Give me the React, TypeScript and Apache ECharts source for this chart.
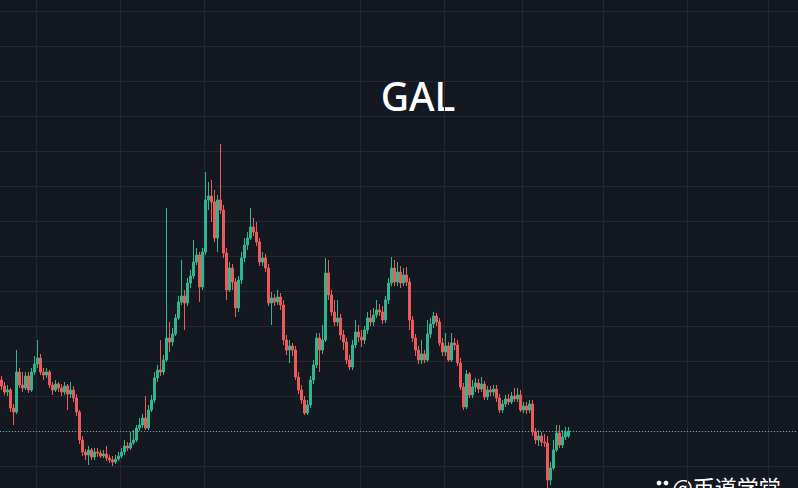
import React, { useEffect, useRef } from "react";
import * as echarts from "echarts";

const SYMBOL = "GAL";
const WATERMARK = "@币道学堂";

// time slots (3px each); the chart keeps an empty right margin like TradingView
const SLOT_COUNT = 266;
const slots = Array.from({ length: SLOT_COUNT }, (_, i) => `T${i + 1}`);
// slots where the time grid draws a vertical line
const timeGridSlots = [12, 40, 68, 120, 148, 174, 201, 229, 256];

const opens = [
  1.20, 1.14, 1.08, 1.10, 0.92, 0.88, 1.28, 1.15, 1.12, 1.24,
  1.10, 1.28, 1.36, 1.42, 1.28, 1.25, 1.28, 1.15, 1.10, 1.16,
  1.12, 1.08, 1.14, 1.06, 1.10, 1.02, 0.88, 0.60, 0.48, 0.45,
  0.50, 0.43, 0.48, 0.47, 0.44, 0.46, 0.42, 0.40, 0.38, 0.41,
  0.44, 0.48, 0.54, 0.52, 0.57, 0.60, 0.72, 0.75, 0.82, 0.72,
  0.90, 1.00, 1.22, 1.30, 1.28, 1.40, 1.62, 1.58, 1.66, 1.82,
  1.98, 2.04, 1.97, 2.17, 2.24, 2.38, 2.45, 2.13, 2.48, 3.00,
  3.04, 2.98, 2.62, 3.00, 2.90, 2.47, 2.10, 2.32, 2.18, 1.92,
  2.20, 2.42, 2.55, 2.62, 2.73, 2.68, 2.58, 2.38, 2.42, 2.32,
  1.97, 2.02, 1.98, 2.03, 1.95, 1.60, 1.50, 1.54, 1.50, 1.23,
  1.10, 1.00, 0.87, 0.95, 1.20, 1.35, 1.62, 1.50, 1.60, 2.27,
  2.05, 1.88, 1.78, 1.82, 1.65, 1.58, 1.40, 1.33, 1.55, 1.68,
  1.63, 1.60, 1.70, 1.82, 1.78, 1.85, 1.90, 1.88, 1.80, 2.00,
  2.17, 2.32, 2.18, 2.28, 2.17, 2.25, 2.18, 1.80, 1.62, 1.50,
  1.40, 1.46, 1.40, 1.66, 1.76, 1.84, 1.78, 1.57, 1.48, 1.54,
  1.40, 1.57, 1.55, 1.37, 1.13, 0.93, 1.26, 1.05, 1.13, 1.17,
  1.11, 1.16, 1.03, 1.10, 1.08, 1.11, 1.02, 0.90, 0.96, 1.01,
  0.98, 1.04, 1.01, 1.05, 0.90, 0.94, 0.90, 0.96, 0.68, 0.60,
  0.64, 0.58, 0.57, 0.20, 0.32, 0.50, 0.67, 0.55, 0.63, 0.64,
];

const closes = [
  1.14, 1.08, 1.10, 0.92, 0.88, 1.28, 1.15, 1.12, 1.24, 1.10,
  1.28, 1.36, 1.42, 1.28, 1.25, 1.28, 1.15, 1.10, 1.16, 1.12,
  1.08, 1.14, 1.06, 1.10, 1.02, 0.88, 0.60, 0.48, 0.45, 0.50,
  0.43, 0.48, 0.47, 0.44, 0.46, 0.42, 0.40, 0.38, 0.41, 0.44,
  0.48, 0.54, 0.52, 0.57, 0.60, 0.72, 0.75, 0.82, 0.72, 0.90,
  1.00, 1.22, 1.30, 1.28, 1.40, 1.62, 1.58, 1.66, 1.82, 1.98,
  2.04, 1.97, 2.17, 2.24, 2.38, 2.45, 2.13, 2.48, 3.00, 3.04,
  2.98, 2.62, 3.00, 2.90, 2.47, 2.10, 2.32, 2.18, 1.92, 2.20,
  2.42, 2.55, 2.62, 2.73, 2.68, 2.58, 2.38, 2.42, 2.32, 1.97,
  2.02, 1.98, 2.03, 1.95, 1.60, 1.50, 1.54, 1.50, 1.23, 1.10,
  1.00, 0.87, 0.95, 1.20, 1.35, 1.62, 1.50, 1.60, 2.27, 2.05,
  1.88, 1.78, 1.82, 1.65, 1.58, 1.40, 1.33, 1.55, 1.68, 1.63,
  1.60, 1.70, 1.82, 1.78, 1.85, 1.90, 1.88, 1.80, 2.00, 2.17,
  2.32, 2.18, 2.28, 2.17, 2.25, 2.18, 1.80, 1.62, 1.50, 1.40,
  1.46, 1.40, 1.66, 1.76, 1.84, 1.78, 1.57, 1.48, 1.54, 1.40,
  1.57, 1.55, 1.37, 1.13, 0.93, 1.26, 1.05, 1.13, 1.17, 1.11,
  1.16, 1.03, 1.10, 1.08, 1.11, 1.02, 0.90, 0.96, 1.01, 0.98,
  1.04, 1.01, 1.05, 0.90, 0.94, 0.90, 0.96, 0.68, 0.60, 0.64,
  0.58, 0.57, 0.20, 0.32, 0.50, 0.67, 0.55, 0.63, 0.68, 0.69,
];

const highs = [
  1.24, 1.18, 1.15, 1.12, 0.96, 1.50, 1.32, 1.28, 1.28, 1.28,
  1.32, 1.44, 1.60, 1.46, 1.32, 1.32, 1.30, 1.18, 1.20, 1.18,
  1.16, 1.18, 1.16, 1.18, 1.14, 1.06, 0.90, 0.64, 0.51, 0.54,
  0.52, 0.52, 0.52, 0.50, 0.50, 0.54, 0.45, 0.44, 0.45, 0.48,
  0.52, 0.60, 0.58, 0.68, 0.70, 0.75, 0.82, 0.86, 1.04, 0.95,
  1.05, 1.28, 1.35, 1.60, 1.45, 2.92, 1.78, 1.72, 1.86, 2.04,
  2.40, 2.10, 2.22, 2.30, 2.60, 2.52, 2.48, 2.52, 3.28, 3.18,
  3.20, 3.10, 3.05, 3.56, 2.95, 2.52, 2.38, 2.36, 2.22, 2.24,
  2.48, 2.62, 2.68, 2.92, 2.82, 2.78, 2.62, 2.48, 2.46, 2.36,
  2.08, 2.06, 2.10, 2.07, 2.00, 1.65, 1.60, 1.57, 1.54, 1.28,
  1.15, 1.04, 1.00, 1.24, 1.40, 1.67, 1.67, 1.75, 2.42, 2.40,
  2.10, 2.00, 2.00, 1.86, 1.70, 1.62, 1.45, 1.60, 1.80, 1.75,
  1.70, 1.74, 1.88, 1.90, 1.92, 2.00, 1.96, 1.94, 2.04, 2.22,
  2.43, 2.40, 2.38, 2.34, 2.32, 2.33, 2.22, 1.84, 1.66, 1.54,
  1.60, 1.50, 1.80, 1.82, 1.88, 1.87, 1.82, 1.62, 1.67, 1.58,
  1.67, 1.62, 1.60, 1.42, 1.17, 1.30, 1.28, 1.20, 1.22, 1.21,
  1.23, 1.19, 1.14, 1.14, 1.15, 1.15, 1.06, 1.00, 1.05, 1.06,
  1.08, 1.12, 1.12, 1.10, 0.98, 0.98, 1.00, 1.00, 0.72, 0.70,
  0.68, 0.66, 0.64, 0.38, 0.60, 0.75, 0.75, 0.70, 0.73, 0.73,
];

const lows = [
  1.10, 1.05, 1.04, 0.88, 0.75, 0.86, 1.12, 1.08, 1.10, 1.07,
  1.08, 1.25, 1.32, 1.25, 1.20, 1.22, 1.12, 1.05, 1.08, 1.08,
  1.04, 1.05, 0.90, 1.02, 0.98, 0.84, 0.56, 0.44, 0.40, 0.35,
  0.40, 0.40, 0.43, 0.42, 0.42, 0.39, 0.37, 0.34, 0.36, 0.39,
  0.42, 0.45, 0.49, 0.50, 0.55, 0.58, 0.69, 0.72, 0.70, 0.70,
  0.88, 0.97, 1.18, 1.24, 1.25, 1.38, 1.48, 1.54, 1.64, 1.80,
  1.95, 1.70, 1.94, 2.12, 2.21, 2.35, 1.98, 2.10, 2.45, 2.90,
  2.78, 2.58, 2.48, 2.86, 2.42, 2.00, 2.08, 2.10, 1.83, 1.88,
  2.16, 2.38, 2.50, 2.60, 2.64, 2.54, 2.34, 2.34, 2.28, 1.94,
  1.75, 1.94, 1.95, 1.90, 1.55, 1.45, 1.37, 1.44, 1.20, 1.06,
  0.96, 0.85, 0.85, 0.92, 1.16, 1.32, 1.28, 1.46, 1.58, 2.00,
  1.84, 1.74, 1.74, 1.60, 1.50, 1.36, 1.30, 1.30, 1.52, 1.58,
  1.53, 1.56, 1.66, 1.74, 1.74, 1.82, 1.84, 1.76, 1.77, 1.96,
  2.14, 2.14, 2.14, 2.12, 2.14, 2.14, 1.70, 1.58, 1.44, 1.36,
  1.36, 1.37, 1.38, 1.62, 1.72, 1.74, 1.54, 1.44, 1.44, 1.38,
  1.38, 1.50, 1.34, 1.10, 0.90, 0.91, 1.02, 1.02, 1.08, 1.07,
  1.08, 1.00, 1.00, 1.04, 1.04, 0.98, 0.87, 0.87, 0.93, 0.95,
  0.96, 0.98, 0.98, 0.88, 0.87, 0.86, 0.87, 0.64, 0.56, 0.54,
  0.54, 0.53, 0.08, 0.15, 0.30, 0.48, 0.52, 0.52, 0.60, 0.62,
];

const UP = "#30b68d";
const DOWN = "#ec5a5a";
const BG = "#141821";
const GRID = "#242833";

// the chart box is taller than the page and shifted up, so that the
// price grid falls where the reference draws it
const SHIFT = 24;
const BOX_H = 525;

export default function App() {
  const ref = useRef<HTMLDivElement>(null);

  useEffect(() => {
    document.body.style.margin = "0";
    document.body.style.background = BG;
    document.body.style.overflow = "hidden";
    if (!ref.current) return;
    const chart = echarts.init(ref.current, null, { renderer: "svg" });
    const candles = opens.map((o, i) => [o, closes[i], lows[i], highs[i]]);
    const last = closes[closes.length - 1];

    chart.setOption({
      animation: false,
      backgroundColor: BG,
      grid: { left: 0, right: 0, top: 0, bottom: 0, containLabel: false },
      xAxis: {
        type: "category",
        data: slots,
        boundaryGap: true,
        axisLine: { show: false },
        axisTick: { show: false },
        axisLabel: { show: false },
        splitLine: {
          show: true,
          interval: (index: number) => timeGridSlots.includes(index),
          lineStyle: { color: GRID, width: 1 },
        },
      },
      yAxis: [
        {
          type: "value",
          min: 0,
          max: 15,
          interval: 1,
          axisLine: { show: false },
          axisTick: { show: false },
          axisLabel: { show: false },
          splitLine: { show: true, lineStyle: { color: GRID, width: 1 } },
        },
        {
          type: "value",
          min: -0.01,
          max: 5.24,
          axisLine: { show: false },
          axisTick: { show: false },
          axisLabel: { show: false },
          splitLine: { show: false },
        },
      ],
      series: [
        {
          type: "candlestick",
          yAxisIndex: 1,
          data: candles,
          barWidth: 1.8,
          itemStyle: {
            color: UP,
            color0: DOWN,
            borderColor: UP,
            borderColor0: DOWN,
            borderWidth: 1,
          },
          markLine: {
            silent: true,
            symbol: ["none", "none"],
            label: { show: false },
            lineStyle: { color: "#6aa9a2", type: [1, 2], width: 1 },
            data: [{ yAxis: last }],
          },
        },
      ],
      graphic: [
        {
          type: "text",
          x: 418,
          y: 95 + SHIFT,
          style: {
            text: SYMBOL,
            fill: "#ffffff",
            font: '500 39px "Noto Sans"',
            textAlign: "center",
            textVerticalAlign: "middle",
          },
        },
        { type: "circle", shape: { cx: 659, cy: 483 + SHIFT, r: 2.4 }, style: { fill: "#ffffff" } },
        { type: "circle", shape: { cx: 666, cy: 483 + SHIFT, r: 2.4 }, style: { fill: "#ffffff" } },
        {
          type: "text",
          x: 672,
          y: 475 + SHIFT,
          style: {
            text: WATERMARK,
            fill: "#ffffff",
            font: '22px "Noto Sans CJK SC"',
            textAlign: "left",
            textVerticalAlign: "top",
          },
        },
      ],
    });

    return () => chart.dispose();
  }, []);

  return (
    <div
      ref={ref}
      style={{ position: "absolute", left: 0, top: -SHIFT, width: 798, height: BOX_H, background: BG }}
    />
  );
}
